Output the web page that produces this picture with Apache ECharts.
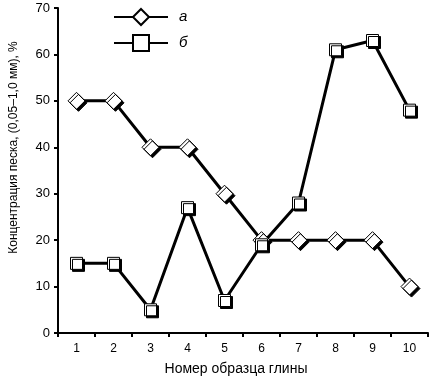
<!DOCTYPE html>
<html>
<head>
<meta charset="utf-8">
<script src="https://cdn.jsdelivr.net/npm/echarts@6/dist/echarts.min.js"></script>
<style>
  html, body { margin: 0; padding: 0; background: #fff; }
  #chart { width: 433px; height: 381px; }
</style>
</head>
<body>
<div id="chart"></div>
<script>
// номера образцов
const categories = ['1', '2', '3', '4', '5', '6', '7', '8', '9', '10'];
// серия а
const seriesA = [50, 50, 40, 40, 30, 20, 20, 20, 20, 10];
// серия б
const seriesB = [15, 15, 5, 27, 7, 19, 28, 61, 63, 48];
const yTicks = [0, 10, 20, 30, 40, 50, 60, 70];

const myChart = echarts.init(document.getElementById('chart'));

const markStyle = {
  color: '#fff',
  borderColor: '#000',
  borderWidth: 1,
  shadowColor: '#000',
  shadowBlur: 0,
  shadowOffsetX: 2,
  shadowOffsetY: 2
};

myChart.setOption({
  animation: false,
  textStyle: { fontFamily: 'Liberation Sans, Arial, sans-serif' },
  grid: { left: 50, right: 5, top: 8, bottom: 47 },
  legend: {
    orient: 'vertical',
    left: 108,
    top: 3,
    itemWidth: 54,
    itemHeight: 20,
    itemGap: 8,
    textStyle: { fontSize: 15, fontStyle: 'italic', color: '#000', padding: [0, 0, 0, 6] },
    data: ['а', 'б']
  },
  xAxis: {
    type: 'category',
    data: categories,
    name: 'Номер образца глины',
    nameLocation: 'middle',
    nameGap: 29,
    nameTextStyle: { fontSize: 14, color: '#000', padding: [0, 14, 0, 0] },
    axisLine: { lineStyle: { color: '#000', width: 2 } },
    axisTick: { show: true, length: 4, lineStyle: { color: '#000', width: 2 } },
    axisLabel: { color: '#000', fontSize: 12, margin: 10 }
  },
  yAxis: {
    type: 'value',
    min: yTicks[0],
    max: yTicks[yTicks.length - 1],
    interval: 10,
    name: 'Концентрация песка, (0,05–1,0 мм), %',
    nameLocation: 'middle',
    nameGap: 38,
    nameTextStyle: { fontSize: 12, color: '#000', padding: [0, 0, 0, 46] },
    axisLine: { show: true, lineStyle: { color: '#000', width: 2 } },
    axisTick: { show: true, length: 4, lineStyle: { color: '#000', width: 2 } },
    axisLabel: { color: '#000', fontSize: 13, margin: 8 },
    splitLine: { show: false }
  },
  series: [
    {
      name: 'а',
      type: 'line',
      data: seriesA,
      symbol: 'diamond',
      symbolSize: 17,
      lineStyle: { color: '#000', width: 3 },
      itemStyle: markStyle
    },
    {
      name: 'б',
      type: 'line',
      data: seriesB,
      symbol: 'rect',
      symbolSize: 12,
      lineStyle: { color: '#000', width: 3 },
      itemStyle: markStyle
    }
  ]
});

myChart.resize();
</script>
</body>
</html>
